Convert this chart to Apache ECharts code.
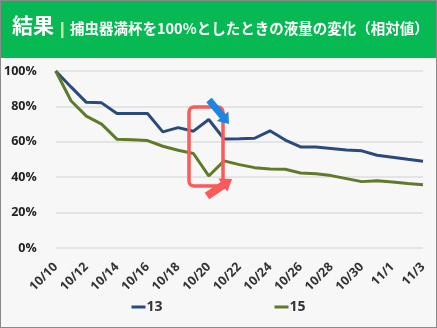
<!DOCTYPE html>
<html>
<head>
<meta charset="utf-8">
<script src="https://cdn.jsdelivr.net/npm/echarts@6/dist/echarts.min.js"></script>
<style>
  html, body { margin: 0; padding: 0; }
  #wrap { position: relative; width: 437px; height: 328px; box-sizing: border-box; border: 1px solid #8a8a8a; background: #f7f7f7; overflow: hidden; }
  #chart { position: absolute; left: 0; top: 0; width: 435px; height: 326px; }
</style>
</head>
<body>
<div id="wrap"><div id="chart"></div></div>
<script>
// Dates of measurement
const dates = [
  '10/10','10/11','10/12','10/13','10/14','10/15','10/16','10/17','10/18','10/19',
  '10/20','10/21','10/22','10/23','10/24','10/25','10/26','10/27','10/28','10/29',
  '10/30','10/31','11/1','11/2','11/3'
];
// Relative liquid level (%) per trap
const trap13 = [100, 91, 82.3, 82, 76, 76, 76, 65.6, 68, 66, 72.6, 61.6, 61.7, 62, 66.2, 61, 57.1, 57, 56.2, 55.4, 54.9, 52.4, 51.3, 50.1, 49];
const trap15 = [100, 83.2, 74.5, 70, 61.5, 61.2, 60.7, 57.5, 55.2, 53.4, 40.7, 49.2, 47.1, 45.4, 44.7, 44.5, 42.4, 42, 40.9, 39.2, 37.5, 38, 37.3, 36.4, 35.8];
const seriesNames = ['13', '15'];
const yTicks = [0, 20, 40, 60, 80, 100];

// Block arrow outline from tail to tip
function arrowPoints(tail, tip, shaftW, headW, headL) {
  const dx = tip[0] - tail[0], dy = tip[1] - tail[1];
  const len = Math.hypot(dx, dy);
  const ux = dx / len, uy = dy / len;
  const nx = -uy, ny = ux;
  const bx = tip[0] - ux * headL, by = tip[1] - uy * headL;
  const s = shaftW / 2, h = headW / 2;
  return [
    [tail[0] + nx * s, tail[1] + ny * s],
    [bx + nx * s, by + ny * s],
    [bx + nx * h, by + ny * h],
    [tip[0], tip[1]],
    [bx - nx * h, by - ny * h],
    [bx - nx * s, by - ny * s],
    [tail[0] - nx * s, tail[1] - ny * s]
  ];
}

const chart = echarts.init(document.getElementById('chart'), null, { renderer: 'canvas' });
const font = '"Open Sans", "Noto Sans CJK JP", sans-serif';

chart.setOption({
  backgroundColor: '#f7f7f7',
  animation: false,
  textStyle: { fontFamily: font },
  grid: { left: 51, right: 13, top: 70, bottom: 79, containLabel: false },
  legend: {
    data: seriesNames,
    bottom: 8,
    left: 'center',
    itemGap: 112,
    itemWidth: 14,
    itemHeight: 3,
    icon: 'rect',
    textStyle: { fontSize: 14, fontWeight: 'bold', color: '#333', fontFamily: font, padding: [0, 0, 0, -4] }
  },
  xAxis: {
    type: 'category',
    data: dates,
    boundaryGap: false,
    axisLine: { show: false },
    axisTick: { show: false },
    axisLabel: { interval: 1, rotate: 45, fontSize: 12.5, fontWeight: 'bold', color: '#333', margin: 17, fontFamily: font }
  },
  yAxis: {
    type: 'value',
    min: yTicks[0],
    max: yTicks[yTicks.length - 1],
    interval: 20,
    axisLabel: { formatter: '{value}%', fontSize: 12.5, fontWeight: 'bold', color: '#222', margin: 19, fontFamily: font },
    splitLine: { lineStyle: { color: '#dedede', width: 1.5 } },
    axisLine: { show: false },
    axisTick: { show: false }
  },
  series: [
    { name: seriesNames[0], type: 'line', data: trap13, symbol: 'none', lineStyle: { width: 3, color: '#2b4a7c' }, itemStyle: { color: '#2b4a7c' } },
    { name: seriesNames[1], type: 'line', data: trap15, symbol: 'none', lineStyle: { width: 3, color: '#5f7b2a' }, itemStyle: { color: '#5f7b2a' } }
  ],
  graphic: [
    // header band
    { type: 'rect', left: 0, top: 0, shape: { width: 437, height: 57 }, style: { fill: '#07b952' }, z: 10 },
    { type: 'text', left: 11, top: 14, style: { text: '結果', fill: '#fff', font: 'bold 21px "Noto Sans CJK JP", sans-serif' }, z: 11 },
    { type: 'rect', left: 60, top: 21, shape: { width: 2.5, height: 16 }, style: { fill: '#c9e4a6' }, z: 11 },
    { type: 'text', left: 69, top: 20, style: { text: '捕虫器満杯を100%としたときの液量の変化（相対値）', fill: '#fff', font: 'bold 14.5px "Noto Sans CJK JP", sans-serif' }, z: 11 },
    // highlight box around the drop
    { type: 'rect', shape: { x: 188, y: 106, width: 34, height: 79, r: 5 }, style: { fill: 'none', stroke: '#fb5a5a', lineWidth: 3.5 }, z: 20 },
    // red arrow (up-right)
    { type: 'polygon', shape: { points: arrowPoints([206, 195], [231, 178], 8, 16, 11) }, style: { fill: '#fb5a5a' }, z: 20 },
    // blue arrow (down-right)
    { type: 'polygon', shape: { points: arrowPoints([208, 99], [228, 123], 7, 15, 10) }, style: { fill: '#1a86e0' }, z: 20 }
  ]
});
</script>
</body>
</html>
